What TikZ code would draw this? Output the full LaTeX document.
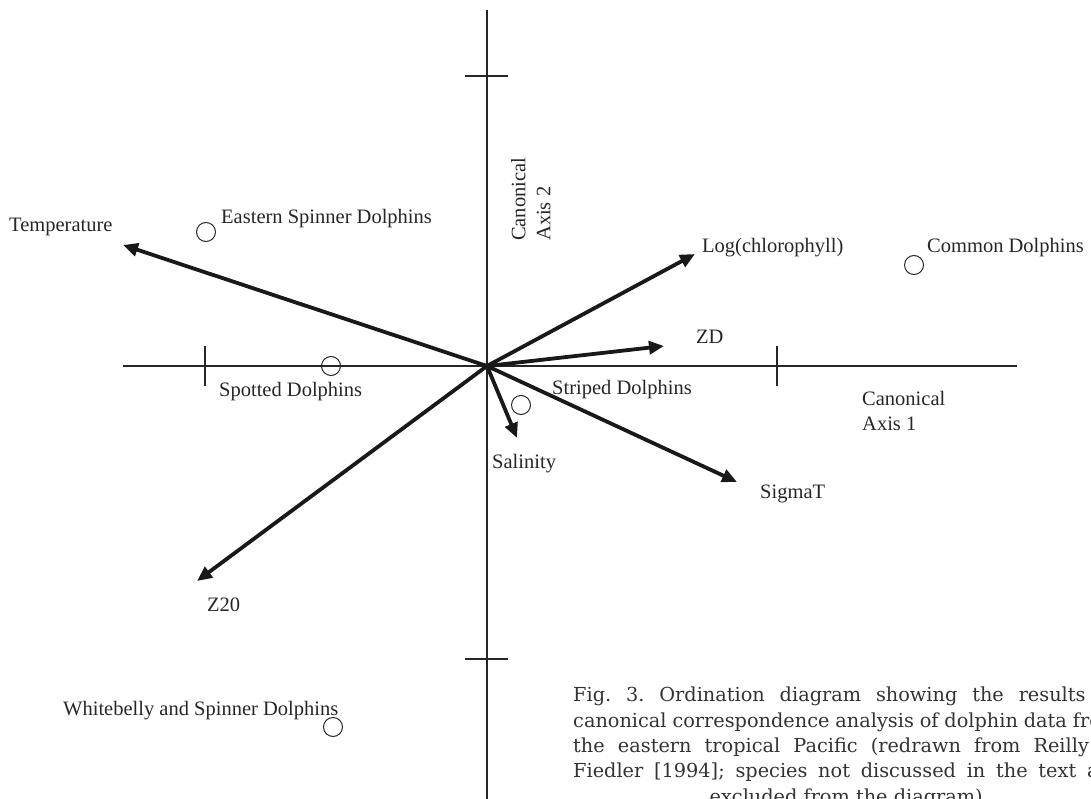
\documentclass[tikz,border=0pt]{standalone}
\usepackage{fontspec}
\setmainfont{Liberation Serif}
\newfontfamily\capfont{DejaVu Serif}
\usetikzlibrary{arrows.meta}
\begin{document}
\begin{tikzpicture}[x=1pt,y=-1pt,
  ax/.style={line width=1.1pt, draw=black!85},
  vec/.style={line width=3.8pt, draw=black!90, -{Triangle[length=15pt,width=13pt]}},
  lbl/.style={font=\fontsize{20.5}{25}\selectfont, text=black!85, inner sep=0pt},
  site/.style={circle, draw=black!85, line width=1pt, minimum size=19pt, inner sep=0pt},
  captext/.style={font=\capfont\fontsize{19.3}{25.3}\selectfont\frenchspacing, text=black!80, inner sep=0pt, text width=546pt, align=justify}
]
\useasboundingbox (0,0) rectangle (1091,799);
% axes
\coordinate (O) at (487,366);
\coordinate (vt) at (487,10);
\coordinate (vb) at (487,799);
\coordinate (hl) at (123,366);
\coordinate (hr) at (1017,366);
\draw[ax] (vt) -- (vb);
\draw[ax] (hl) -- (hr);
% ticks
\coordinate (t1a) at (465,76);  \coordinate (t1b) at (508,76);
\coordinate (t2a) at (465,659); \coordinate (t2b) at (508,659);
\coordinate (t3a) at (205,346); \coordinate (t3b) at (205,386);
\coordinate (t4a) at (777,346); \coordinate (t4b) at (777,386);
\draw[ax] (t1a) -- (t1b);
\draw[ax] (t2a) -- (t2b);
\draw[ax] (t3a) -- (t3b);
\draw[ax] (t4a) -- (t4b);
% vectors
\coordinate (T) at (123,245);
\coordinate (L) at (695,254);
\coordinate (ZD) at (664,346);
\coordinate (S) at (737,482);
\coordinate (Sal) at (517,438);
\coordinate (Z) at (197,581);
\draw[vec] (O) -- (T);
\draw[vec] (O) -- (L);
\draw[vec] (O) -- (ZD);
\draw[vec] (O) -- (S);
\draw[vec] (O) -- (Sal);
\draw[vec] (O) -- (Z);
% sites
\node[site] (es) at (206,232) {};
\node[site] (cd) at (914,265) {};
\node[site] (sd) at (331,366) {};
\node[site] (std) at (521,405) {};
\node[site] (ws) at (333,727) {};
% labels
\node[lbl, anchor=base west] (lT) at (9,232) {Temperature};
\node[lbl, anchor=base west] (les) at (221,224) {Eastern Spinner Dolphins};
\node[lbl, anchor=base west] (lL) at (702,253) {Log(chlorophyll)};
\node[lbl, anchor=base west] (lcd) at (927,253) {Common Dolphins};
\node[lbl, anchor=base west] (lZD) at (696,343) {ZD};
\node[lbl, anchor=base west] (lsd) at (219,396) {Spotted Dolphins};
\node[lbl, anchor=base west] (lstd) at (552,394) {Striped Dolphins};
\node[lbl, anchor=north west, align=left] (ax1) at (862,391) {Canonical\\Axis 1};
\node[lbl, anchor=base west] (lSal) at (492,468) {Salinity};
\node[lbl, anchor=base west] (lS) at (760,498) {SigmaT};
\node[lbl, anchor=base west] (lZ) at (207,611) {Z20};
\node[lbl, anchor=base west] (lws) at (63,715) {Whitebelly and Spinner Dolphins};
\node[lbl, rotate=90, align=left, anchor=north west] (ax2) at (511,241) {Canonical\\Axis 2};
% caption
\node[captext, anchor=north west] (capt) at (573,687) {Fig.\ 3. Ordination diagram showing the results of\linebreak canonical correspondence analysis of dolphin data from\linebreak the eastern tropical Pacific (redrawn from Reilly \&\linebreak Fiedler [1994]; species not discussed in the text are\linebreak \hspace*{\fill}excluded from the diagram)\hspace*{\fill}\mbox{}};
\end{tikzpicture}
\end{document}
